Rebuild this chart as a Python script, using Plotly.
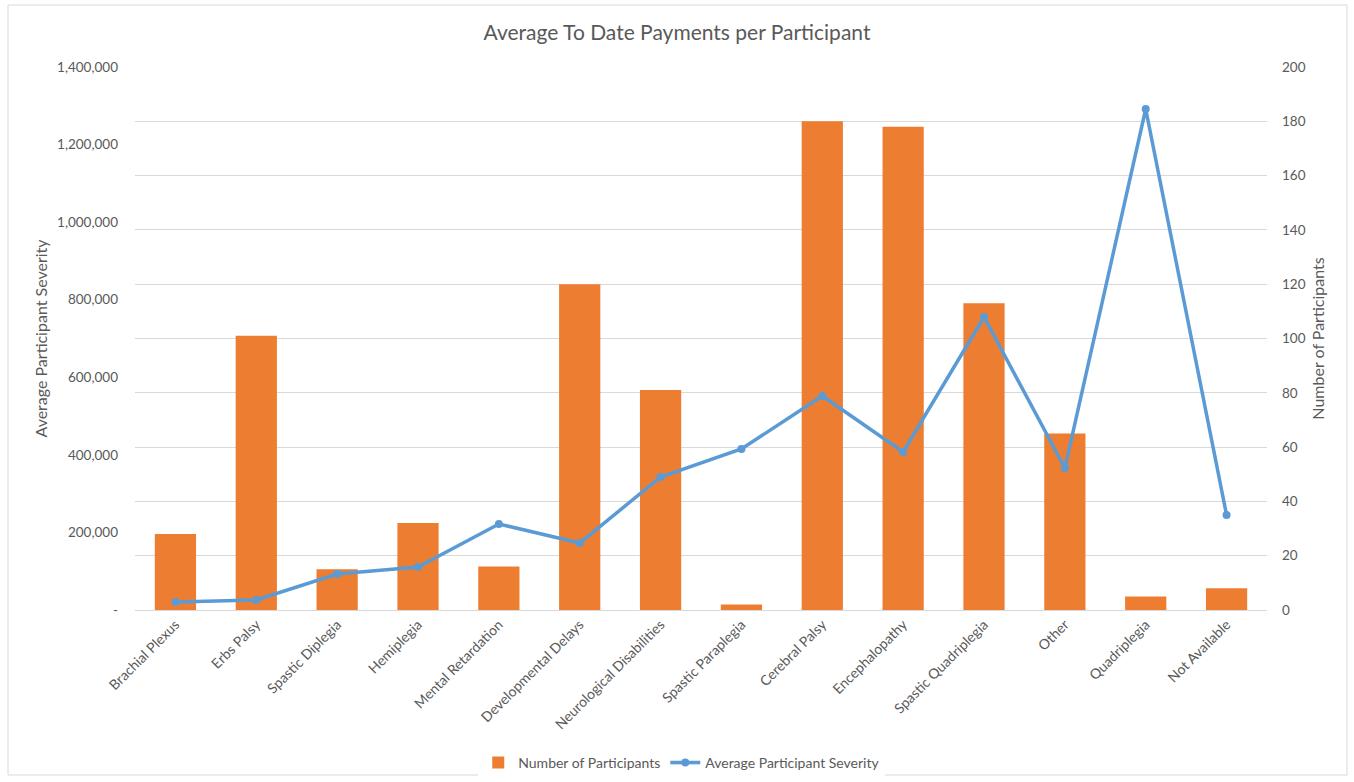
import plotly.graph_objects as go

categories = ["Brachial Plexus", "Erbs Palsy", "Spastic Diplegia", "Hemiplegia",
              "Mental Retardation", "Developmental Delays", "Neurological Disabilities",
              "Spastic Paraplegia", "Cerebral Palsy", "Encephalopathy",
              "Spastic Quadriplegia", "Other", "Quadriplegia", "Not Available"]
participants = [28, 101, 15, 32, 16, 120, 81, 2, 180, 178, 113, 65, 5, 8]
severity = [20600, 25800, 92800, 110900, 221700, 172700, 342900, 415100,
            551800, 407400, 755400, 366100, 1291700, 244900]

left_tickvals = [0, 200000, 400000, 600000, 800000, 1000000, 1200000, 1400000]
left_ticktext = ["-", "200,000", "400,000", "600,000", "800,000", "1,000,000", "1,200,000", "1,400,000"]

FONT = "Lato, 'Open Sans', sans-serif"
GRAY = "#595959"

fig = go.Figure()
fig.add_trace(go.Bar(
    x=categories, y=participants, name="Number of Participants",
    marker=dict(color="#ed7d31", line=dict(width=0)), yaxis="y",
))
fig.add_trace(go.Scatter(
    x=categories, y=severity, name="Average Participant Severity",
    mode="lines+markers", line=dict(color="#5b9bd5", width=3.5),
    marker=dict(color="#5b9bd5", size=8), yaxis="y2",
))

fig.update_layout(
    width=1354, height=782,
    margin=dict(l=135, r=87, t=67, b=172),
    paper_bgcolor="white", plot_bgcolor="white",
    font=dict(family=FONT, color=GRAY, size=13),
    title=dict(text="Average To Date Payments per Participant",
               x=0.5, xanchor="center", y=1 - 33 / 782, yanchor="middle",
               font=dict(size=21, color=GRAY, family=FONT)),
    bargap=0.49,
    showlegend=True,
    legend=dict(orientation="h", x=0.483, xanchor="center",
                yref="container", y=1 - 763 / 782, yanchor="middle",
                font=dict(size=14, color=GRAY), traceorder="normal"),
    xaxis=dict(tickangle=-45, showgrid=False, showline=True, linecolor="#d9d9d9",
               linewidth=1, ticks="", automargin=False, range=[-0.5, 13.5],
               tickfont=dict(size=14, color=GRAY)),
    yaxis=dict(side="right", range=[0, 200], dtick=20, showgrid=True,
               gridcolor="#d9d9d9", gridwidth=1, zeroline=False, ticks="",
               ticklabelstandoff=14, automargin=False,
               title=dict(text="Number of Participants", font=dict(size=16, color=GRAY), standoff=8),
               tickfont=dict(size=13.5, color=GRAY)),
    yaxis2=dict(side="left", overlaying="y", range=[0, 1400000],
                tickvals=left_tickvals, ticktext=left_ticktext, showgrid=False,
                zeroline=False, ticks="", ticklabelstandoff=16, automargin=False,
                title=dict(text="Average Participant Severity", font=dict(size=16, color=GRAY), standoff=5),
                tickfont=dict(size=13.5, color=GRAY)),
    shapes=[dict(type="rect", xref="paper", yref="paper",
                 x0=(8 - 135) / 1132, x1=(1347 - 135) / 1132, y0=(610 - 775) / 543, y1=(610 - 5) / 543,
                 line=dict(color="#d9d9d9", width=1), fillcolor="rgba(0,0,0,0)", layer="below")],
)

fig.write_html("out.html")
